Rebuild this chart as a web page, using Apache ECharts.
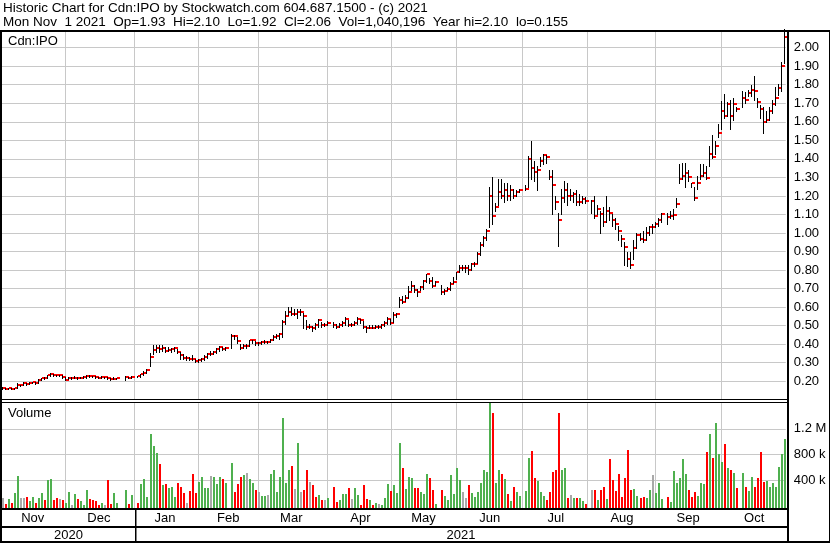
<!DOCTYPE html>
<html>
<head>
<meta charset="utf-8">
<script src="https://cdn.jsdelivr.net/npm/echarts@6/dist/echarts.min.js"></script>
<style>
html,body{margin:0;padding:0;background:#fff;overflow:hidden}
#chart{width:830px;height:543px}
</style>
</head>
<body>
<div id="chart"></div>
<script>
const titleLine1 = 'Historic Chart for Cdn:IPO by Stockwatch.com 604.687.1500 - (c) 2021';
const titleLine2 = 'Mon Nov  1 2021  Op=1.93  Hi=2.10  Lo=1.92  Cl=2.06  Vol=1,040,196  Year hi=2.10  lo=0.155';
const symbolLabel = 'Cdn:IPO';
const volumeLabel = 'Volume';
const monthNames = ['Jan','Feb','Mar','Apr','May','Jun','Jul','Aug','Sep','Oct','Nov','Dec'];
const firstDay = '2020-11-02';
const lastDay = '2021-11-01';
const volumeTickLabels = {400000: '400 k', 800000: '800 k', 1200000: '1.2 M'};

// one value per weekday from firstDay to lastDay (null = market holiday)
const close = [
0.165,0.160,0.163,0.160,0.163,0.178,0.178,0.190,0.183,0.193,
0.195,0.191,0.207,0.218,0.215,0.232,0.238,0.232,0.232,0.232,
0.222,0.208,0.215,0.217,0.220,0.215,0.218,0.222,0.230,0.229,
0.227,0.222,0.218,0.222,0.222,0.216,0.210,0.213,0.218,null,
null,0.225,0.220,0.224,null,0.226,0.238,0.245,0.262,0.330,
0.370,0.377,0.372,0.377,0.365,0.370,0.373,0.377,0.360,0.340,
0.325,0.325,0.320,0.318,0.310,0.315,0.318,0.330,0.348,0.348,
0.360,0.372,0.383,0.375,0.380,null,0.445,0.443,0.415,0.377,
0.390,0.390,0.420,0.422,0.405,0.405,0.410,0.412,0.412,0.425,
0.440,0.445,0.455,0.520,0.550,0.573,0.565,0.565,0.575,0.575,
0.550,0.495,0.495,0.485,0.505,0.528,0.506,0.506,0.517,null,
0.506,0.495,0.506,0.517,0.537,0.506,0.506,0.517,0.537,0.528,
0.495,0.488,0.490,0.488,0.495,0.495,0.506,0.517,0.537,0.517,
0.560,0.564,0.636,0.629,0.647,0.679,0.715,0.694,0.679,0.706,
0.739,0.777,0.739,0.715,0.737,null,0.679,0.686,0.697,0.726,
0.737,0.787,0.809,0.809,0.809,0.802,0.831,0.834,0.888,0.937,
0.975,1.009,1.198,1.090,1.139,1.220,1.198,1.230,1.198,1.230,
1.198,1.220,1.230,null,1.237,1.400,1.350,1.330,1.340,1.390,
1.420,1.410,1.300,1.260,1.170,1.070,1.190,1.230,1.200,1.200,
1.210,1.165,1.170,1.185,1.175,null,1.175,1.090,1.130,1.100,
1.060,1.120,1.107,1.071,1.050,1.012,0.967,0.922,0.860,0.830,
0.920,0.990,0.970,0.960,1.000,1.030,1.030,1.050,1.070,1.100,
null,1.085,1.090,1.097,1.154,1.290,1.308,1.322,1.300,1.268,
1.188,1.268,1.308,1.326,1.297,1.428,1.410,1.467,1.537,1.657,
1.633,1.696,1.630,1.696,1.669,null,1.726,1.716,1.758,1.773,
1.764,1.705,1.669,1.598,1.610,1.657,1.696,1.728,1.785,1.900,
2.060];

const high = [
0.170,0.165,0.165,0.165,0.165,0.190,0.180,0.196,0.190,0.195,
0.198,0.195,0.212,0.220,0.222,0.235,0.245,0.240,0.235,0.235,
0.232,0.222,0.225,0.225,0.228,0.222,0.225,0.228,0.232,0.232,
0.230,0.228,0.225,0.228,0.225,0.222,0.218,0.225,0.220,null,
null,0.228,0.225,0.228,null,0.228,0.240,0.255,0.268,0.355,
0.395,0.395,0.395,0.395,0.385,0.385,0.380,0.385,0.375,0.360,
0.345,0.335,0.330,0.340,0.320,0.320,0.325,0.340,0.350,0.365,
0.365,0.380,0.390,0.385,0.385,null,0.455,0.450,0.440,0.400,
0.400,0.400,0.425,0.425,0.415,0.410,0.415,0.420,0.415,0.430,
0.450,0.455,0.460,0.530,0.580,0.600,0.600,0.590,0.590,0.590,
0.570,0.530,0.510,0.500,0.515,0.535,0.520,0.515,0.525,null,
0.520,0.510,0.515,0.525,0.545,0.530,0.515,0.525,0.545,0.535,
0.525,0.500,0.505,0.505,0.505,0.505,0.510,0.525,0.545,0.535,
0.575,0.570,0.655,0.660,0.665,0.715,0.740,0.720,0.700,0.715,
0.745,0.780,0.755,0.760,0.740,null,0.720,0.700,0.710,0.735,
0.760,0.790,0.830,0.830,0.830,0.825,0.840,0.845,0.900,0.950,
0.985,1.020,1.250,1.300,1.160,1.290,1.290,1.270,1.270,1.260,
1.240,1.230,1.240,null,1.260,1.415,1.495,1.390,1.360,1.410,
1.425,1.420,1.340,1.340,1.200,1.110,1.240,1.280,1.270,1.240,
1.220,1.230,1.210,1.200,1.195,null,1.180,1.200,1.150,1.120,
1.140,1.200,1.140,1.100,1.080,1.040,0.990,0.950,0.900,0.900,
0.960,1.000,1.000,1.010,1.030,1.040,1.050,1.060,1.080,1.110,
null,1.110,1.120,1.130,1.190,1.370,1.380,1.380,1.340,1.270,
1.250,1.310,1.370,1.370,1.360,1.470,1.530,1.495,1.590,1.710,
1.750,1.705,1.720,1.730,1.680,null,1.764,1.760,1.770,1.800,
1.845,1.730,1.690,1.680,1.660,1.680,1.720,1.790,1.805,1.925,
2.100];

const low = [
0.160,0.158,0.160,0.158,0.160,0.165,0.175,0.178,0.180,0.185,
0.190,0.185,0.190,0.205,0.210,0.215,0.230,0.230,0.228,0.228,
0.220,0.205,0.210,0.212,0.215,0.212,0.215,0.218,0.220,0.225,
0.222,0.220,0.215,0.218,0.218,0.212,0.205,0.210,0.212,null,
null,0.208,0.218,0.220,null,0.224,0.225,0.235,0.245,0.280,
0.345,0.360,0.360,0.365,0.360,0.362,0.360,0.365,0.350,0.320,
0.320,0.315,0.315,0.315,0.305,0.305,0.310,0.315,0.325,0.340,
0.345,0.355,0.365,0.370,0.370,null,0.380,0.430,0.405,0.375,
0.380,0.382,0.390,0.405,0.395,0.395,0.400,0.405,0.405,0.410,
0.425,0.435,0.430,0.440,0.510,0.555,0.555,0.555,0.540,0.560,
0.490,0.480,0.485,0.470,0.480,0.495,0.495,0.500,0.505,null,
0.495,0.490,0.495,0.500,0.505,0.500,0.500,0.505,0.510,0.515,
0.490,0.465,0.485,0.485,0.485,0.490,0.490,0.500,0.510,0.510,
0.520,0.545,0.600,0.620,0.635,0.650,0.690,0.680,0.660,0.690,
0.700,0.735,0.730,0.710,0.720,null,0.670,0.670,0.690,0.695,
0.730,0.750,0.790,0.800,0.790,0.780,0.800,0.820,0.840,0.880,
0.930,0.960,1.030,1.050,1.120,1.150,1.190,1.170,1.180,1.180,
1.190,1.200,1.220,null,1.230,1.250,1.290,1.280,1.230,1.360,
1.370,1.380,1.290,1.100,1.130,0.930,1.100,1.170,1.150,1.180,
1.170,1.150,1.150,1.160,1.160,null,1.110,1.080,1.100,1.000,
1.040,1.060,1.070,1.040,1.020,0.960,0.930,0.830,0.820,0.810,
0.860,0.920,0.960,0.950,0.960,0.990,1.000,1.030,1.040,1.060,
null,1.050,1.080,1.075,1.140,1.270,1.290,1.250,1.280,1.250,
1.180,1.240,1.290,1.310,1.290,1.360,1.406,1.424,1.520,1.560,
1.620,1.630,1.560,1.610,1.660,null,1.680,1.700,1.740,1.740,
1.720,1.680,1.620,1.540,1.600,1.610,1.650,1.690,1.745,1.764,
1.920];

// daily volume, thousands of shares
const volumeK = [
125,20,104,36,203,462,125,125,140,73,
140,47,125,203,88,400,420,88,125,109,
88,47,213,16,187,109,73,16,244,109,
88,73,16,36,16,400,26,192,36,null,
null,244,20,166,null,36,338,415,140,1117,
930,816,649,322,338,281,296,140,348,296,
203,36,229,494,203,369,442,281,281,462,
442,338,442,415,353,null,665,213,338,442,
473,509,415,348,244,213,151,151,171,494,
556,213,442,1366,353,556,618,260,977,213,
250,556,369,322,140,166,88,88,125,null,
291,57,88,182,182,275,104,275,166,10,
322,104,88,10,42,26,10,119,338,229,
322,197,977,587,260,447,431,275,275,213,
182,494,431,244,26,null,244,151,88,478,
182,587,400,213,119,322,197,135,213,353,
556,525,1600,1444,353,556,494,415,182,73,
291,213,151,null,229,743,852,431,384,213,
151,88,213,525,556,1444,556,587,119,166,
119,119,119,73,26,null,244,244,88,244,
291,104,727,400,229,494,140,431,868,244,
260,151,119,135,119,244,478,197,353,104,
null,135,57,540,353,431,727,494,244,135,
213,151,353,338,836,1117,743,1288,805,681,
961,587,556,509,275,null,509,291,229,447,
291,431,836,369,384,291,353,291,603,805,
1040];

// day direction: 1 up (green), -1 down (red), 0 unchanged (grey)
const volDir = [
0,-1,1,-1,1,1,0,0,-1,1,
1,-1,1,1,-1,1,1,-1,-1,0,
-1,1,1,0,1,-1,1,1,1,-1,
-1,-1,-1,1,0,-1,-1,1,1,0,
0,1,-1,1,0,-1,1,1,1,1,
1,1,-1,1,-1,1,1,1,-1,-1,
-1,0,-1,-1,-1,1,1,1,1,0,
1,1,1,-1,1,0,1,-1,-1,-1,
1,0,1,1,-1,0,1,1,0,1,
1,1,1,1,1,1,-1,0,1,0,
-1,-1,0,-1,-1,1,-1,0,1,0,
-1,-1,1,1,1,-1,0,1,1,-1,
-1,-1,1,-1,1,0,1,1,1,-1,
1,1,1,-1,1,1,1,-1,-1,1,
1,1,-1,-1,1,0,-1,1,1,1,
1,1,1,0,0,-1,1,1,1,1,
1,1,1,-1,1,1,-1,1,-1,1,
-1,1,1,0,1,1,-1,-1,1,1,
1,-1,-1,-1,-1,-1,1,1,-1,0,
1,-1,1,1,-1,0,0,-1,1,-1,
-1,1,-1,-1,-1,-1,-1,-1,-1,-1,
1,1,-1,-1,1,1,0,1,1,1,
0,-1,1,1,1,1,1,1,-1,-1,
-1,1,1,1,-1,1,-1,1,1,1,
-1,1,-1,1,-1,0,1,-1,1,1,
-1,-1,-1,-1,1,1,1,1,1,1,
1];

// ---------- calendar (weekdays) ----------
const dates = [];
for (let d = new Date(firstDay + 'T00:00:00Z'); d <= new Date(lastDay + 'T00:00:00Z'); d.setUTCDate(d.getUTCDate() + 1)) {
  const wd = d.getUTCDay();
  if (wd === 0 || wd === 6) continue;
  dates.push(d.toISOString().slice(0, 10));
}
const N = dates.length;

const months = [];
for (let i = 0; i < N; i++) {
  const k = dates[i].slice(0, 7);
  if (i === 0 || k !== dates[i - 1].slice(0, 7)) months.push({start: i, key: k, first: dates[i].slice(8) === '01'});
}
months.forEach((m, j) => {
  m.end = j < months.length - 1 ? months[j + 1].start - 1 : N - 1;
  m.full = m.end - m.start >= 5;
  m.grid = j === 0 ? -0.5 : (m.first ? m.start : m.start - 0.6);
});
months.forEach((m, j) => {
  const nx = months[j + 1];
  m.gridEnd = (nx && nx.full) ? nx.grid : N - 0.5;
  m.label = Math.round((m.grid + m.gridEnd) / 2 - 0.2);
});
const labelAt = {};
months.forEach(m => { if (m.full) labelAt[m.label] = monthNames[+m.key.slice(5) - 1]; });
const monthGridData = months.filter((m, j) => j > 0 && m.full).map(m => [m.start, m.first ? 0 : -0.6]);

const ohlcData = [];
const volData = [];
for (let i = 0; i < N; i++) {
  if (close[i] != null) ohlcData.push([i, high[i], low[i], close[i]]);
  if (volumeK[i] != null) volData.push([i, volumeK[i] * 1000, volDir[i]]);
}

const FONT = 'Arial, "Liberation Sans", sans-serif';
const GRID_COLOR = '#c8c8c8';

function monthGridRender(extra) {
  return function (params, api) {
    const c = api.coord([api.value(0), 0]);
    const bw = api.size([1, 0])[0];
    const x = Math.floor(c[0] + api.value(1) * bw) + 0.5;
    const cs = params.coordSys;
    return {type: 'line', silent: true,
      shape: {x1: x, y1: cs.y, x2: x, y2: cs.y + cs.height + extra},
      style: {stroke: GRID_COLOR, lineWidth: 1}};
  };
}

const chart = echarts.init(document.getElementById('chart'), null, {renderer: 'canvas'});
const option = {
  animation: false,
  backgroundColor: '#fff',
  grid: [
    {left: 1.2, width: 784.6, top: 31, height: 368.8},
    {left: 1.2, width: 784.6, top: 403.2, height: 102.4}
  ],
  xAxis: [
    {type: 'category', gridIndex: 0, data: dates, boundaryGap: true,
      axisLine: {show: false}, axisTick: {show: false}, axisLabel: {show: false}, splitLine: {show: false}},
    {type: 'category', gridIndex: 1, data: dates, boundaryGap: true,
      axisLine: {show: false}, axisTick: {show: false}, splitLine: {show: false},
      axisLabel: {show: true, margin: 6, color: '#000', fontSize: 13, fontFamily: FONT,
        interval: (i) => labelAt[i] !== undefined,
        formatter: (v, i) => labelAt[i] || ''}}
  ],
  yAxis: [
    {type: 'value', gridIndex: 0, position: 'right', min: 0.1, max: 2.09, interval: 0.1,
      axisLine: {show: false}, axisTick: {show: false},
      axisLabel: {margin: 8, color: '#000', fontSize: 13, fontFamily: FONT,
        formatter: v => (v > 0.15 && v < 2.05) ? v.toFixed(2) : ''},
      splitLine: {show: true, showMinLine: false, showMaxLine: false, lineStyle: {color: GRID_COLOR, width: 1}}},
    {type: 'value', gridIndex: 1, position: 'right', min: 0, max: 1600000, interval: 400000,
      axisLine: {show: false}, axisTick: {show: false},
      axisLabel: {margin: 8, color: '#000', fontSize: 13, fontFamily: FONT,
        formatter: v => volumeTickLabels[Math.round(v)] || ''},
      splitLine: {show: true, showMinLine: false, showMaxLine: false, lineStyle: {color: GRID_COLOR, width: 1}}}
  ],
  series: [
    {type: 'custom', name: 'priceMonthGrid', xAxisIndex: 0, yAxisIndex: 0, data: monthGridData,
      encode: {x: 0, y: 1}, renderItem: monthGridRender(0), silent: true, z: 1},
    {type: 'custom', name: 'volMonthGrid', xAxisIndex: 1, yAxisIndex: 1, data: monthGridData,
      encode: {x: 0, y: 1}, renderItem: monthGridRender(3), silent: true, z: 1},
    {type: 'custom', name: 'Cdn:IPO', xAxisIndex: 0, yAxisIndex: 0, data: ohlcData,
      encode: {x: 0, y: [1, 2, 3]}, z: 3,
      renderItem: function (params, api) {
        const i = api.value(0);
        const h = api.coord([i, api.value(1)]);
        const l = api.coord([i, api.value(2)]);
        const c = api.coord([i, api.value(3)]);
        const x = Math.floor(h[0]);
        return {type: 'group', children: [
          {type: 'rect', shape: {x: x, y: Math.round(h[1]), width: 1, height: Math.max(1, Math.round(l[1]) - Math.round(h[1]) + 1)},
            style: {fill: '#000'}},
          {type: 'rect', shape: {x: x + 1, y: Math.round(c[1]) - 1, width: 3, height: 2}, style: {fill: '#ff0000'}}
        ]};
      }},
    {type: 'custom', name: 'Volume', xAxisIndex: 1, yAxisIndex: 1, data: volData,
      encode: {x: 0, y: 1}, z: 3, clip: false,
      renderItem: function (params, api) {
        const i = api.value(0);
        const t = api.coord([i, api.value(1)]);
        const cs = params.coordSys;
        const bottom = cs.y + cs.height + 3;
        const x = Math.floor(t[0]);
        const d = api.value(2);
        const top = Math.round(t[1]);
        return {type: 'rect', shape: {x: x, y: top, width: 2, height: Math.max(1, bottom - top)},
          style: {fill: d > 0 ? '#4fb04f' : (d < 0 ? '#ff0000' : '#a9a9a9')}};
      }}
  ]
};
chart.setOption(option);

// frame, separators and static texts
const janIdx = dates.findIndex(d => d.startsWith('2021'));
const xJan = Math.round(chart.convertToPixel({xAxisIndex: 1}, dates[janIdx]));
const rightEdge = 787;
const box = (x, y, w, h) => ({type: 'rect', shape: {x: x, y: y, width: w, height: h}, style: {fill: '#000'}, z: 100, silent: true});
const txt = (s, x, y, align, va, size) => ({type: 'text', x: x, y: y, z: 101, silent: true,
  style: {text: s, font: (size || 13) + 'px ' + FONT, fill: '#000', align: align || 'left', verticalAlign: va || 'top'}});

chart.setOption({
  graphic: [
    txt(titleLine1, 3, 1.2, 'left', 'top', 13.5),
    txt(titleLine2, 3, 15.2, 'left', 'top', 13.5),
    box(0, 30, 830, 2),
    box(0, 30, 2, 513),
    box(rightEdge, 30, 2, 513),
    box(829, 30, 1, 513),
    box(0, 399, rightEdge, 1),
    box(0, 402, rightEdge, 1),
    box(0, 508, rightEdge, 2),
    box(0, 526, rightEdge, 2),
    box(0, 541, 830, 2),
    box(xJan, 510, 1.5, 31),
    txt(symbolLabel, 8, 34.5),
    txt(volumeLabel, 8, 407),
    txt('2020', (2 + xJan) / 2, 535, 'center', 'middle'),
    txt('2021', (xJan + rightEdge) / 2, 535, 'center', 'middle')
  ]
});
</script>
</body>
</html>
